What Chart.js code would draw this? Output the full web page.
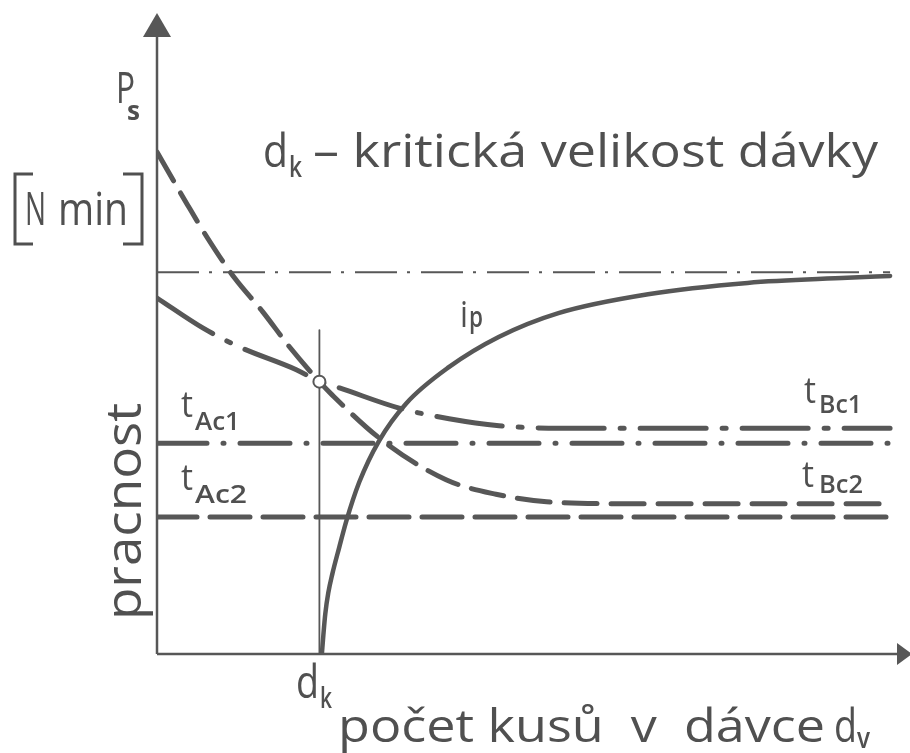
<!DOCTYPE html>
<html>
<head>
<meta charset="utf-8">
<script src="https://cdn.jsdelivr.net/npm/chart.js@4/dist/chart.umd.min.js"></script>
<style>
  body { margin: 0; background: #fff; }
  canvas { display: block; }
</style>
</head>
<body>
<canvas id="chart" width="910" height="753"></canvas>
<script>
// x = počet kusů v dávce, y = pracnost (relative units 0..100)
const ipX = [22.13, 22.33, 22.59, 22.99, 23.53, 24.47, 25.40, 27.14, 29.81, 33.42, 39.17, 45.86, 53.88, 65.91, 79.28, 92.65, 98.4];
const ipY = [0, 3.0, 6.4, 9.7, 12.7, 17.0, 21.1, 27.3, 33.9, 39.8, 45.6, 50.4, 54.2, 57.2, 59.0, 59.8, 60.1];

const bc1X = [0, 6.2, 11.1, 18.7, 21.8, 24.5, 32.5, 39.2, 45.9, 53.9, 98.4];
const bc1Y = [56.6, 51.8, 48.8, 45.2, 43.3, 42.3, 39.1, 37.4, 36.3, 35.9, 35.9];

const bc2X = [0, 4.1, 6.8, 10.4, 14.2, 17.8, 21.8, 23.5, 30.2, 38.8, 45.5, 52.3, 61.9, 98.4];
const bc2Y = [79.8, 71.4, 66.1, 59.8, 54.4, 48.8, 43.3, 41.2, 34.0, 27.7, 25.4, 24.2, 23.9, 23.9];

const tAc1 = 33.5;
const tAc2 = 21.8;
const ipLimit = 60.7;   // asymptota i_p
const dk = 21.8;        // kritická velikost dávky
const dkTop = 51.5;
const xEnd = 98.4;

const INK = '#575757';
const TXT = '#505050';
const FONT = '"Open Sans", "DejaVu Sans"';

const pts = (xs, ys) => xs.map((x, i) => ({ x: x, y: ys[i] }));
const flat = (y) => [{ x: 0, y: y }, { x: xEnd, y: y }];

function line(data, width, dash, extra) {
  return Object.assign({
    data: data,
    showLine: true,
    borderColor: INK,
    borderWidth: width,
    borderDash: dash,
    borderCapStyle: 'round',
    pointRadius: 0,
    fill: false
  }, extra || {});
}

// text squeezed to a given width (technical lettering is narrow)
function txt(ctx, s, x, y, size, w, weight) {
  ctx.save();
  ctx.font = (weight || 400) + ' ' + size + 'px ' + FONT;
  const m = ctx.measureText(s).width;
  ctx.translate(x, y);
  if (w) ctx.scale(w / m, 1);
  ctx.fillText(s, 0, 0);
  ctx.restore();
}

const decor = {
  id: 'decor',
  beforeDatasetsDraw(chart) {
    const ctx = chart.ctx;
    const x0 = chart.scales.x.getPixelForValue(0);
    const y0 = chart.scales.y.getPixelForValue(0);
    ctx.save();
    ctx.strokeStyle = INK;
    ctx.fillStyle = INK;
    ctx.lineWidth = 2.5;
    ctx.beginPath();
    ctx.moveTo(x0, y0);
    ctx.lineTo(x0, 30);
    ctx.moveTo(x0, y0);
    ctx.lineTo(900, y0);
    ctx.stroke();
    // šipky os
    ctx.beginPath();
    ctx.moveTo(x0, 13);
    ctx.lineTo(x0 - 14, 37);
    ctx.lineTo(x0 + 14, 37);
    ctx.closePath();
    ctx.fill();
    ctx.beginPath();
    ctx.moveTo(912, y0);
    ctx.lineTo(897, y0 - 11);
    ctx.lineTo(897, y0 + 11);
    ctx.closePath();
    ctx.fill();
    ctx.restore();
  },
  afterDatasetsDraw(chart) {
    const ctx = chart.ctx;
    ctx.save();
    ctx.fillStyle = TXT;
    ctx.textBaseline = 'alphabetic';

    // P_s [N min]
    txt(ctx, 'P', 116, 103, 44, 19);
    txt(ctx, 's', 127, 120, 26, 13, 700);
    txt(ctx, 'N', 25, 225, 46, 21);
    txt(ctx, 'min', 58, 225, 46, 70);
    ctx.strokeStyle = TXT;
    ctx.lineWidth = 3;
    ctx.beginPath();
    ctx.moveTo(33, 174); ctx.lineTo(15, 174); ctx.lineTo(15, 244); ctx.lineTo(33, 244);
    ctx.moveTo(123, 174); ctx.lineTo(142, 174); ctx.lineTo(142, 244); ctx.lineTo(123, 244);
    ctx.stroke();

    // nadpis
    txt(ctx, 'd', 263, 167, 46, 25);
    txt(ctx, 'k', 289, 177, 28, 13, 600);
    txt(ctx, '– kritická velikost dávky', 313, 167, 46, 565);

    // popisky křivek
    txt(ctx, 'i', 460, 327, 36, 8);
    txt(ctx, 'p', 469, 327, 28, 14, 600);
    txt(ctx, 't', 181, 417, 36, 12);
    txt(ctx, 'Ac1', 195, 430, 26, 45, 600);
    txt(ctx, 't', 181, 490, 36, 12);
    txt(ctx, 'Ac2', 195, 503, 26, 52, 600);
    txt(ctx, 't', 804, 403, 36, 12);
    txt(ctx, 'Bc1', 819, 413, 26, 43, 600);
    txt(ctx, 't', 802, 487, 36, 12);
    txt(ctx, 'Bc2', 819, 493, 26, 44, 600);

    // osa y
    ctx.save();
    ctx.translate(141, 620);
    ctx.rotate(-Math.PI / 2);
    txt(ctx, 'pracnost', 0, 0, 50, 217);
    ctx.restore();

    // osa x
    txt(ctx, 'd', 296, 698, 46, 23);
    txt(ctx, 'k', 320, 708, 28, 12, 600);
    txt(ctx, 'počet kusů  v  dávce', 338, 742, 46, 487);
    txt(ctx, 'd', 834, 742, 46, 23);
    txt(ctx, 'v', 857, 748, 28, 13, 600);
    ctx.restore();
  }
};

new Chart(document.getElementById('chart'), {
  type: 'scatter',
  data: {
    datasets: [
      // průsečík v d_k
      {
        data: [{ x: dk, y: 43.3 }],
        pointRadius: 6,
        pointBackgroundColor: '#fff',
        pointBorderColor: INK,
        pointBorderWidth: 2,
        showLine: false
      },
      line(pts(ipX, ipY), 4.5, [], { cubicInterpolationMode: 'monotone' }),
      line(pts(bc1X, bc1Y), 5, [66, 16, 4, 16], { cubicInterpolationMode: 'monotone' }),
      line(pts(bc2X, bc2Y), 5, [33, 14], { cubicInterpolationMode: 'monotone' }),
      line(flat(tAc1), 5, [50, 16, 1, 16]),
      line(flat(tAc2), 5, [40, 13]),
      line(flat(ipLimit), 2, [42, 10, 3, 11], { borderCapStyle: 'butt' }),
      line([{ x: dk, y: 0 }, { x: dk, y: dkTop }], 1.8, [])
    ]
  },
  options: {
    responsive: false,
    devicePixelRatio: 1,
    animation: false,
    layout: { padding: { left: 157, right: 5, top: 25, bottom: 99 } },
    scales: {
      x: { type: 'linear', min: 0, max: 100, display: false },
      y: { type: 'linear', min: 0, max: 100, display: false }
    },
    plugins: { legend: { display: false }, tooltip: { enabled: false } }
  },
  plugins: [decor]
});
</script>
</body>
</html>
